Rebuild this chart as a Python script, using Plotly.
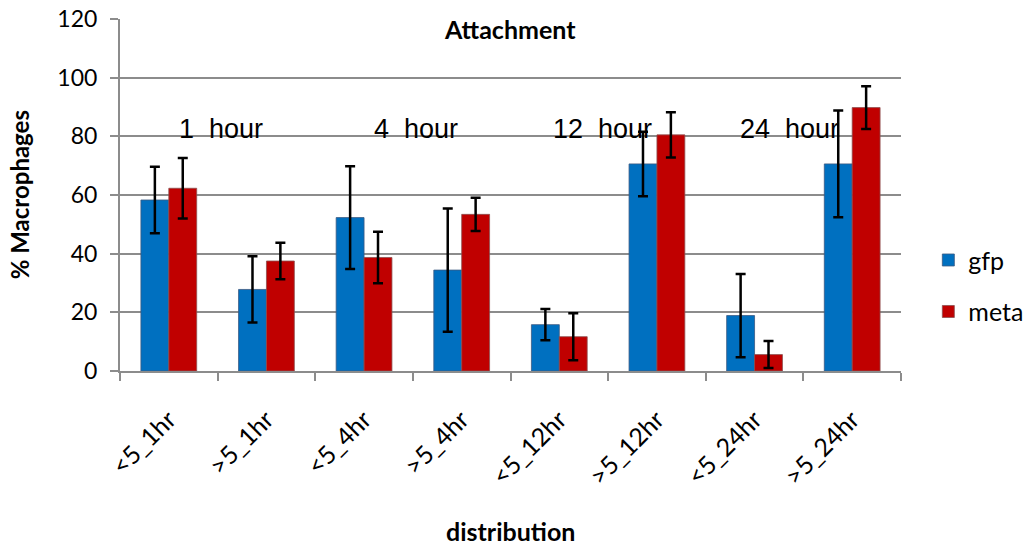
import plotly.graph_objects as go

# Categories: short (<5) vs long (>5) distribution at each time point
categories = ["<5_1hr", ">5_1hr", "<5_4hr", ">5_4hr",
              "<5_12hr", ">5_12hr", "<5_24hr", ">5_24hr"]

# % macrophages and their error (± half-range)
gfp_values = [58.3, 27.8, 52.3, 34.4, 15.8, 70.6, 18.9, 70.6]
gfp_errors = [11.3, 11.3, 17.5, 21.0, 5.3, 11.0, 14.2, 18.2]
meta_values = [62.3, 37.5, 38.7, 53.4, 11.7, 80.5, 5.6, 89.8]
meta_errors = [10.3, 6.2, 8.8, 5.7, 8.0, 7.7, 4.6, 7.3]

time_labels = ["1  hour", "4  hour", "12  hour", "24  hour"]
p_labels = ["P-0.002**", "P-<0.0001****"]

x_pos = list(range(len(categories)))

GRID = "#8c8c8c"
CAL = "Lato, 'Open Sans', sans-serif"
ARIAL = "'Liberation Sans', Arial, sans-serif"

err_style = dict(type="data", visible=True, color="black", thickness=2.5, width=5)

fig = go.Figure()
fig.add_trace(go.Bar(
    x=x_pos, y=gfp_values, name="gfp",
    marker=dict(color="#0070C0", line=dict(color="rgba(60,90,130,0.8)", width=1)),
    error_y=dict(array=gfp_errors, **err_style),
    legendgroup="g1",
))
fig.add_trace(go.Bar(
    x=x_pos, y=meta_values, name="meta",
    marker=dict(color="#C00000", line=dict(color="rgba(140,80,80,0.8)", width=1)),
    error_y=dict(array=meta_errors, **err_style),
    legendgroup="g2",
))

fig.update_layout(
    width=1030, height=546,
    margin=dict(l=120, r=129, t=19, b=175, autoexpand=False),
    paper_bgcolor="white", plot_bgcolor="white",
    barmode="group", bargap=0.4286, bargroupgap=0,
    font=dict(family=CAL, size=23, color="black"),
    legend=dict(x=1.035, y=0.38, xanchor="left", yanchor="top",
                font=dict(family=CAL, size=25), tracegroupgap=16,
                itemwidth=30, bgcolor="rgba(0,0,0,0)"),
    showlegend=True,
)

fig.update_xaxes(
    range=[-0.5, 7.5], automargin=False,
    tickmode="array", tickvals=x_pos, ticktext=categories,
    tickangle=-45, ticks="", ticklabelstandoff=22,
    tickfont=dict(family=CAL, size=25),
    showline=True, linecolor=GRID, linewidth=2,
    showgrid=False, zeroline=False,
    minor=dict(tickmode="array", tickvals=[i - 0.5 for i in range(len(categories) + 1)],
               ticks="outside", ticklen=8, tickcolor=GRID, tickwidth=2, showgrid=False),
)
fig.update_yaxes(
    range=[0, 120], dtick=20, automargin=False,
    ticks="outside", ticklen=8, tickcolor=GRID, tickwidth=2,
    ticklabelstandoff=8,
    tickfont=dict(family=CAL, size=23),
    showline=True, linecolor=GRID, linewidth=2,
    showgrid=True, gridcolor=GRID, gridwidth=2,
    zeroline=False,
)

annotations = []
# time-point labels
for xp, txt in zip([0.53, 2.53, 4.44, 6.36], time_labels):
    annotations.append(dict(x=xp, y=82.5, xref="x", yref="y", text=txt, showarrow=False,
                            font=dict(family=ARIAL, size=27, color="black"),
                            xanchor="center", yanchor="middle"))
# significance labels
for xp, yp, txt in zip([6.51, 7.68], [120.3, 106.5], p_labels):
    annotations.append(dict(x=xp, y=yp, xref="x", yref="y", text=txt, showarrow=False,
                            font=dict(family=ARIAL, size=27, color="black"),
                            xanchor="center", yanchor="middle"))
# chart title
annotations.append(dict(x=0.4994, y=0.9716, xref="paper", yref="paper",
                        text="<b>Attachment</b>", showarrow=False,
                        font=dict(family=CAL, size=25), xanchor="center", yanchor="middle"))
# axis titles
annotations.append(dict(x=0.4994, y=-0.4545, xref="paper", yref="paper",
                        text="<b>distribution</b>", showarrow=False,
                        font=dict(family=CAL, size=25), xanchor="center", yanchor="middle"))
annotations.append(dict(x=-0.129, y=0.5, xref="paper", yref="paper",
                        text="<b>% Macrophages</b>", showarrow=False, textangle=-90,
                        font=dict(family=CAL, size=24), xanchor="center", yanchor="middle"))
fig.update_layout(annotations=annotations)

fig.write_html("out.html")
